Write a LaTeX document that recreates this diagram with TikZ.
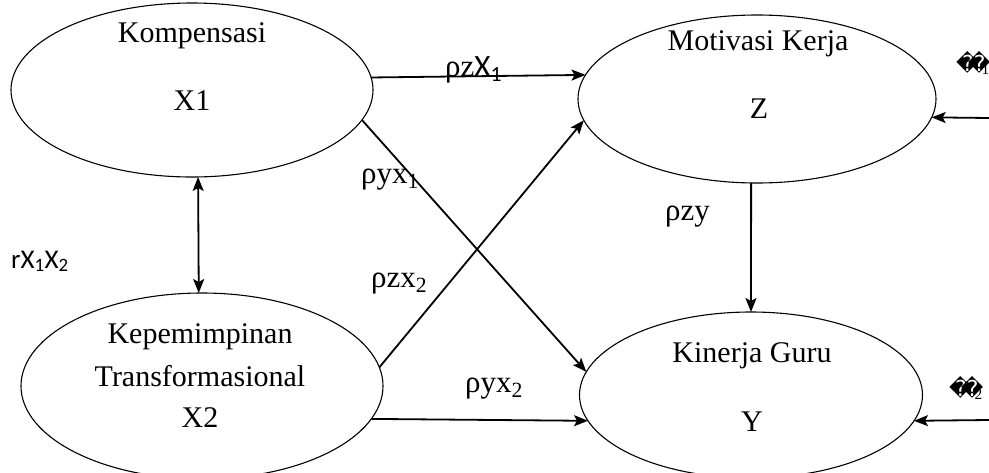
\documentclass[tikz,border=0pt]{standalone}
\usepackage{fontspec}
\setmainfont{Liberation Serif}
\newfontfamily\calibri{Carlito}
\newfontfamily\dejavu{DejaVu Sans}
\usetikzlibrary{shapes.geometric,arrows.meta}

\tikzset{
  var/.style={ellipse,draw,line width=1.1pt,inner sep=0pt,outer sep=0pt},
  vartext/.style={anchor=base,font=\fontsize{30}{42}\selectfont},
  coef/.style={anchor=base west,inner sep=0pt,font=\fontsize{31}{33}\selectfont},
  err/.style={inner sep=0pt,anchor=west,font=\fontsize{22}{24}\selectfont},
  arr/.style={line width=1.8pt,->},
  >={Stealth[length=14pt,width=11pt,inset=3pt]}
}
% error term: two replacement marks with an index
\newcommand{\errsym}[1]{{\dejavu\symbol{"FFFD}\kern-0.5em\symbol{"FFFD}}\kern-0.4em\textsubscript{#1}}

\begin{document}
\begin{tikzpicture}[x=1pt,y=-1pt]
      \useasboundingbox (0,0) rectangle (989,472);
      \begin{scope}
        % latent variables
        \node[var,minimum width=362pt,minimum height=174pt] (x1) at (192,90) {};
        \node[var,minimum width=358pt,minimum height=168pt] (z) at (757,99) {};
        \node[var,minimum width=362pt,minimum height=186pt] (x2) at (202,386) {};
        \node[var,minimum width=343pt,minimum height=166pt] (y) at (751,395) {};
        \node[vartext] (x1a) at (192,42) {Kompensasi};
        \node[vartext] (x1b) at (192,110) {X1};
        \node[vartext] (za) at (758,50) {Motivasi Kerja};
        \node[vartext] (zb) at (759,118) {Z};
        \node[vartext] (x2a) at (200,343) {Kepemimpinan};
        \node[vartext] (x2b) at (200,386) {Transformasional};
        \node[vartext] (x2c) at (200,427) {X2};
        \node[vartext] (ya) at (752,362) {Kinerja Guru};
        \node[vartext] (yb) at (752,431) {Y};
      \end{scope}
      \begin{scope}
        % paths
        \draw[arr] (x1.4.7) -- (z.172);
        \draw[arr] (x1.-10.4) -- (y.172);
        \draw[arr] (x2.6.7) -- (z.187.7);
        \draw[arr] (x2.-11.6) -- (y.189.3);
        \draw[arr,<->] (x1.-86) -- (x2.92.5);
        \draw[arr] (z.-94) -- (y.north);
        \coordinate (e1in) at (989,118);
        \coordinate (e2in) at (989,420);
        \draw[arr] (e1in) -- (z.-6.2);
        \draw[arr] (e2in) -- (y.-9.3);
        \node[coef] (p1) at (445,76) {ρz{\calibri X\textsubscript{1}}};
        \node[coef] (p2) at (361,183) {ρyx\textsubscript{1}};
        \node[coef,font=\fontsize{27}{29}\calibri] (r12) at (11,268) {rX\textsubscript{1}X\textsubscript{2}};
        \node[coef] (p3) at (371,287) {ρzx\textsubscript{2}};
        \node[coef] (p4) at (665,220) {ρzy};
        \node[coef] (p5) at (465,392) {ρyx\textsubscript{2}};
        \node[err] (e1) at (956,63) {\errsym{1}};
        \node[err] (e2) at (949,388) {\errsym{2}};
      \end{scope}
  \end{tikzpicture}
\end{document}
